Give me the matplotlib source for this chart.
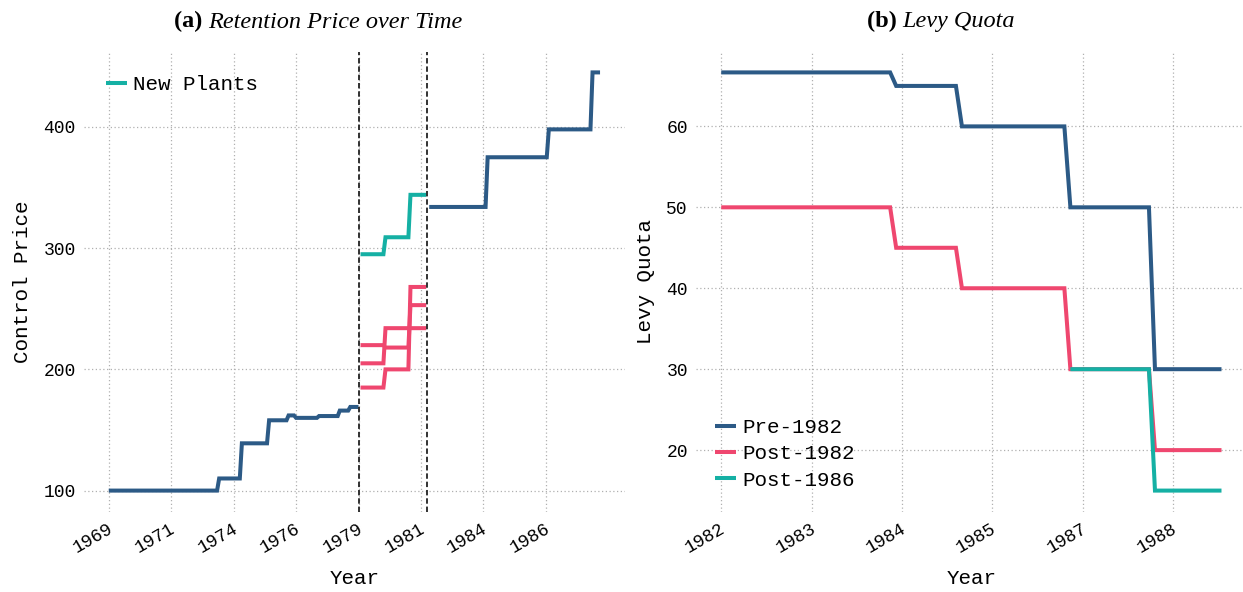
import matplotlib
matplotlib.use("Agg")
import matplotlib.pyplot as plt
from matplotlib.transforms import ScaledTranslation

# ---------------- data ----------------
# Panel (a): retention (control) price
pre_t = [1969.0, 1973.42, 1974.33, 1975.42, 1976.2, 1976.5, 1977.42, 1978.25, 1978.67]
pre_v = [100, 110, 139, 158, 162, 160, 161.5, 166, 169]
pre_end = 1979.0

old_a_t = [1979.08, 1980.08, 1981.08]
old_a_v = [220, 218, 253]
old_b_t = [1979.08, 1980.08, 1981.08]
old_b_v = [205, 234, 234]
old_c_t = [1979.08, 1980.08, 1981.08]
old_c_v = [185, 200, 268]
old_end = 1981.71

new_t = [1979.08, 1980.08, 1981.08]
new_v = [295, 309, 344]
new_end = 1981.71

post_t = [1981.83, 1984.17, 1986.62, 1988.37]
post_v = [334, 375, 398, 445]
post_end = 1988.67

policy_dates = [1979.0, 1981.75]

a_xticks = [1969, 1971.5, 1974, 1976.5, 1979, 1981.5, 1984, 1986.5]
a_xlabels = ["1969", "1971", "1974", "1976", "1979", "1981", "1984", "1986"]
a_yticks = [100, 200, 300, 400]

# Panel (b): levy quota
q_t = [1982.0, 1984.42, 1985.33, 1986.83, 1988.0]
q_pre = [66.67, 65, 60, 50, 30]
q_post82 = [50, 45, 40, 30, 20]
q86_t = [1986.83, 1988.0]
q_post86 = [30, 15]
q_end = 1988.92

b_xticks = [1982, 1983.25, 1984.5, 1985.75, 1987, 1988.25]
b_xlabels = ["1982", "1983", "1984", "1985", "1987", "1988"]
b_yticks = [20, 30, 40, 50, 60]

# ---------------- style ----------------
BLUE = "#2c5a86"
PINK = "#ef476f"
TEAL = "#15b0a4"
MONO = "Liberation Mono"
SERIF = "Liberation Serif"
LW = 2.9


def step_xy(times, values, end, ramp=1 / 12):
    xs = [times[0]]
    ys = [values[0]]
    for t, v in zip(times[1:], values[1:]):
        xs += [t - ramp, t]
        ys += [ys[-1], v]
    xs.append(end)
    ys.append(values[-1])
    return xs, ys


def plot_step(ax, t, v, end, color, label=None):
    xs, ys = step_xy(t, v, end)
    ax.plot(xs, ys, color=color, lw=LW, label=label,
            solid_capstyle="butt", solid_joinstyle="miter")


W, H = 1243, 592
fig = plt.figure(figsize=(W / 100, H / 100), dpi=100)


def style_axes(ax):
    for s in ax.spines.values():
        s.set_visible(False)
    ax.grid(True, color="#b0b0b0", linestyle=(0, (1, 2)), lw=0.9)
    ax.set_axisbelow(True)
    ax.tick_params(length=0, labelsize=13, pad=6)
    for lab in ax.get_xticklabels() + ax.get_yticklabels():
        lab.set_fontfamily(MONO)
    off = ScaledTranslation(7 / 100, 0, fig.dpi_scale_trans)
    for lab in ax.get_xticklabels():
        lab.set_transform(lab.get_transform() + off)


ax1 = fig.add_axes([84.2 / W, 1 - 511.5 / H, 540.4 / W, 460 / H])
ax2 = fig.add_axes([696.2 / W, 1 - 511.5 / H, 550.3 / W, 460 / H])

# ---- panel (a)
plot_step(ax1, pre_t, pre_v, pre_end, BLUE)
plot_step(ax1, old_a_t, old_a_v, old_end, PINK)
plot_step(ax1, old_b_t, old_b_v, old_end, PINK)
plot_step(ax1, old_c_t, old_c_v, old_end, PINK)
plot_step(ax1, new_t, new_v, new_end, TEAL, label="New Plants")
plot_step(ax1, post_t, post_v, post_end, BLUE)
for d in policy_dates:
    ax1.axvline(d, color="#222222", lw=1.3, linestyle=(0, (3, 1.6)), zorder=5)

ax1.set_xticks(a_xticks)
ax1.set_xticklabels(a_xlabels, rotation=30, ha="right")
ax1.set_yticks(a_yticks)
style_axes(ax1)
ax1.set_xlabel("Year", fontfamily=MONO, fontsize=15, labelpad=9.5)
ax1.set_ylabel("Control Price", fontfamily=MONO, fontsize=15, labelpad=8.5)
ax1.legend(loc="upper left", frameon=False, prop={"family": MONO, "size": 15},
           handlelength=1.0, handletextpad=0.3, bbox_to_anchor=(0.0056, 0.989))

# ---- panel (b)
plot_step(ax2, q_t, q_pre, q_end, BLUE, label="Pre-1982")
plot_step(ax2, q_t, q_post82, q_end, PINK, label="Post-1982")
plot_step(ax2, q86_t, q_post86, q_end, TEAL, label="Post-1986")

ax2.set_xticks(b_xticks)
ax2.set_xticklabels(b_xlabels, rotation=30, ha="right")
ax2.set_yticks(b_yticks)
style_axes(ax2)
ax2.set_xlabel("Year", fontfamily=MONO, fontsize=15, labelpad=9.5)
ax2.set_ylabel("Levy Quota", fontfamily=MONO, fontsize=15, labelpad=8.5)
ax2.legend(loc="lower left", frameon=False, prop={"family": MONO, "size": 15},
           handlelength=1.0, handletextpad=0.3, labelspacing=0.35,
           bbox_to_anchor=(0.0, 0.007))

# ---- titles (bold tag + italic caption, centred on each sub-figure)
renderer = fig.canvas.get_renderer()


def caption(xc_px, tag, text):
    y = 1 - 27.5 / H
    t1 = fig.text(0, y, tag + " ", fontfamily=SERIF, fontweight="bold",
                  fontsize=17.5, va="baseline", ha="left")
    t2 = fig.text(0, y, text, fontfamily=SERIF, fontstyle="italic",
                  fontsize=17.5, va="baseline", ha="left")
    w1 = t1.get_window_extent(renderer).width
    w2 = t2.get_window_extent(renderer).width
    x0 = xc_px - (w1 + w2) / 2
    t1.set_x(x0 / W)
    t2.set_x((x0 + w1) / W)


caption(318, "(a)", "Retention Price over Time")
caption(941, "(b)", "Levy Quota")

fig.savefig("out.png", dpi=100)
